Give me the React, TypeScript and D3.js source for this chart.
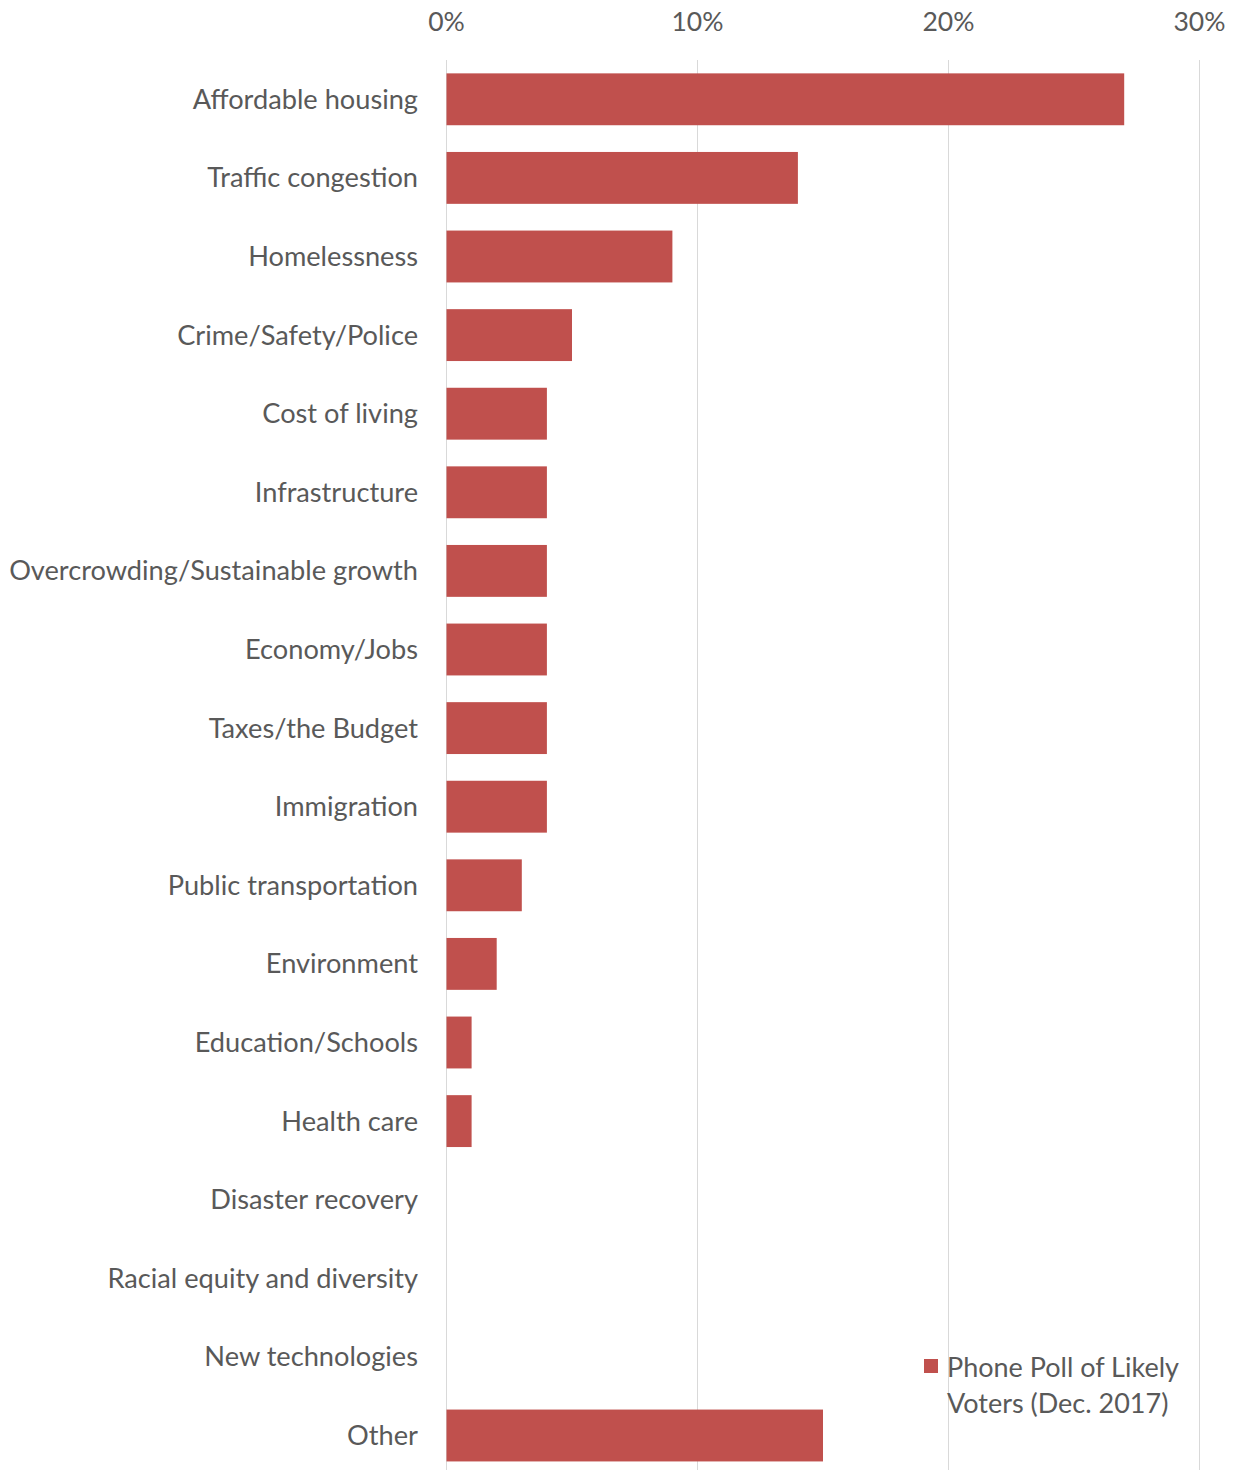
import * as d3 from "d3";

const CATEGORIES = [
  "Affordable housing",
  "Traffic congestion",
  "Homelessness",
  "Crime/Safety/Police",
  "Cost of living",
  "Infrastructure",
  "Overcrowding/Sustainable growth",
  "Economy/Jobs",
  "Taxes/the Budget",
  "Immigration",
  "Public transportation",
  "Environment",
  "Education/Schools",
  "Health care",
  "Disaster recovery",
  "Racial equity and diversity",
  "New technologies",
  "Other",
];

const VALUES = [0.27, 0.14, 0.09, 0.05, 0.04, 0.04, 0.04, 0.04, 0.04, 0.04, 0.03, 0.02, 0.01, 0.01, 0, 0, 0, 0.15];

const TICKS = [0, 0.1, 0.2, 0.3];

const SERIES_NAME = ["Phone Poll of Likely", "Voters (Dec. 2017)"];

const WIDTH = 1239;
const HEIGHT = 1470;
const BAR_COLOR = "#c0504d";
const TEXT_COLOR = "#595959";
const GRID_COLOR = "#d9d9d9";
const FONT = "Lato, 'Open Sans', sans-serif";

export default function App() {
  const x = d3.scaleLinear().domain([0, 0.3]).range([446.5, 1199.5]);
  const step = 78.6;
  const y = d3
    .scaleBand<string>()
    .domain(CATEGORIES)
    .range([60, 60 + step * CATEGORIES.length])
    .paddingInner(0.34)
    .paddingOuter(0.17);
  const fmt = d3.format(".0%");

  return (
    <div style={{ position: "absolute", left: 0, top: 0 }}>
      <svg width={WIDTH} height={HEIGHT} style={{ display: "block", background: "#fff" }}>
        <g>
          {TICKS.map((t) => (
            <line key={t} x1={x(t)} x2={x(t)} y1={60} y2={HEIGHT} stroke={GRID_COLOR} strokeWidth={1} />
          ))}
          {TICKS.map((t) => (
            <text
              key={`l${t}`}
              x={x(t)}
              y={31}
              textAnchor="middle"
              fontFamily={FONT}
              fontSize={26.5}
              fill={TEXT_COLOR}
            >
              {fmt(t)}
            </text>
          ))}
        </g>
        <g>
          {CATEGORIES.map((c, i) => (
            <rect
              key={c}
              x={x(0)}
              y={y(c)}
              width={x(VALUES[i]) - x(0)}
              height={y.bandwidth()}
              fill={BAR_COLOR}
            />
          ))}
        </g>
        <g>
          {CATEGORIES.map((c) => (
            <text
              key={c}
              x={418}
              y={(y(c) ?? 0) + y.bandwidth() / 2}
              dy="0.35em"
              textAnchor="end"
              fontFamily={FONT}
              fontSize={27.2}
              fill={TEXT_COLOR}
            >
              {c}
            </text>
          ))}
        </g>
        <g>
          <rect x={924} y={1359} width={14} height={14} fill={BAR_COLOR} />
          {SERIES_NAME.map((s, i) => (
            <text key={s} x={947} y={1377 + i * 36} fontFamily={FONT} fontSize={27} fill={TEXT_COLOR}>
              {s}
            </text>
          ))}
        </g>
      </svg>
    </div>
  );
}
